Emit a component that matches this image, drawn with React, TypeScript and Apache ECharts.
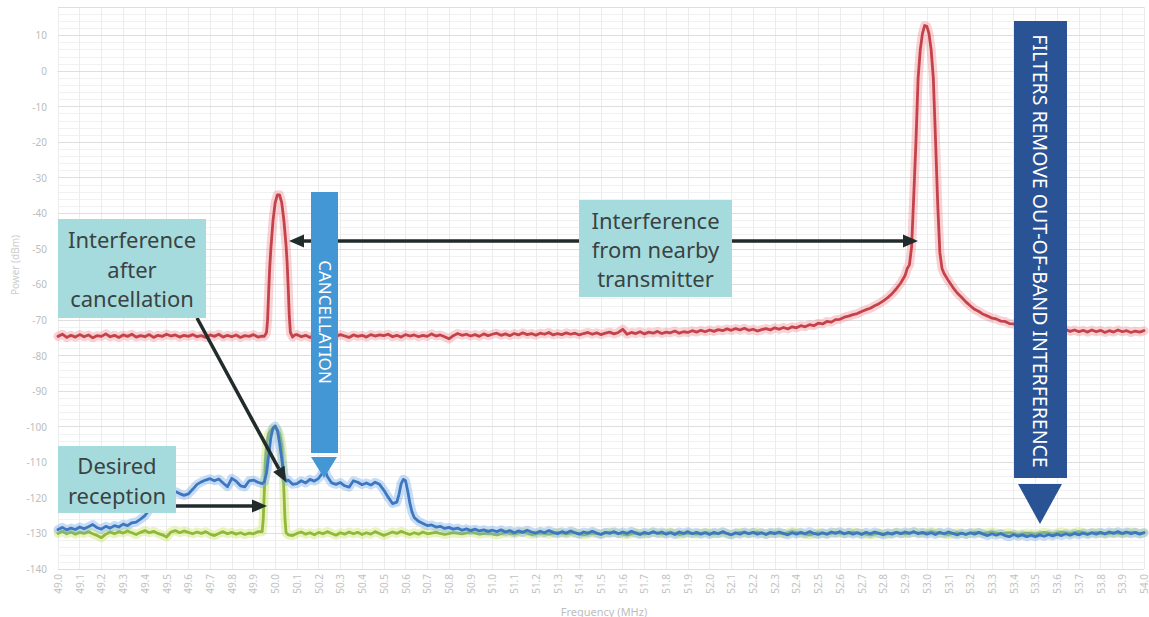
import React, { useEffect, useRef } from "react";
import * as echarts from "echarts";

const X_MIN = 49.0;
const X_MAX = 54.0;
const X_STEP = 0.1;
const Y_MIN = -140;
const Y_MAX = 18;
const Y_STEP = 10;
const Y_MINOR = 2;

const xAxisTitle = "Frequency (MHz)";
const yAxisTitle = "Power (dBm)";

// Interference (before cancellation), red
const redTrace: [number, number][] = [
  [49.0, -74.6], [49.02, -74.0], [49.04, -74.9], [49.06, -74.3], [49.08, -74.8], [49.1, -74.1], [49.12, -74.7], [49.14, -74.2],
  [49.16, -75.0], [49.18, -74.4], [49.2, -74.6], [49.22, -73.9], [49.24, -74.7], [49.26, -74.3], [49.28, -74.9], [49.3, -74.2],
  [49.32, -74.6], [49.34, -74.0], [49.36, -74.8], [49.38, -74.4], [49.4, -74.7], [49.42, -74.1], [49.44, -74.9], [49.46, -74.3],
  [49.48, -74.6], [49.5, -74.0], [49.52, -74.5], [49.54, -74.2], [49.56, -74.8], [49.58, -74.3], [49.6, -74.6], [49.62, -74.1],
  [49.64, -74.7], [49.66, -74.4], [49.68, -74.9], [49.7, -74.2], [49.72, -74.6], [49.74, -74.0], [49.76, -74.8], [49.78, -74.3],
  [49.8, -74.7], [49.82, -74.2], [49.84, -74.9], [49.86, -74.4], [49.88, -74.6], [49.9, -74.1], [49.92, -74.8], [49.94, -74.5],
  [49.95, -74.6], [49.96, -73.5], [49.965, -70], [49.97, -62], [49.975, -55], [49.98, -50], [49.99, -42], [50.0, -37],
  [50.01, -34.8], [50.02, -34.8], [50.03, -37], [50.04, -42], [50.05, -49], [50.055, -54], [50.06, -61], [50.065, -69],
  [50.07, -73.5], [50.08, -74.8], [50.09, -74.2],
  [50.1, -74.1], [50.12, -74.7], [50.14, -74.3], [50.16, -74.9], [50.18, -74.2], [50.2, -74.6], [50.22, -74.0], [50.24, -74.8],
  [50.26, -74.3], [50.28, -74.6], [50.3, -74.1], [50.32, -74.5], [50.34, -74.9], [50.36, -74.2], [50.38, -74.6], [50.4, -74.3],
  [50.42, -74.8], [50.44, -74.1], [50.46, -74.5], [50.48, -74.2], [50.5, -74.4], [50.52, -74.0], [50.54, -74.7], [50.56, -74.3],
  [50.58, -74.8], [50.6, -74.1], [50.62, -74.5], [50.64, -74.2], [50.66, -74.7], [50.68, -74.3], [50.7, -74.6], [50.72, -73.9],
  [50.74, -74.5], [50.76, -74.2], [50.78, -74.7], [50.8, -75.3], [50.82, -74.4], [50.84, -73.8], [50.86, -74.3], [50.88, -74.0],
  [50.9, -74.5], [50.92, -74.1], [50.94, -74.6], [50.96, -73.9], [50.98, -74.4], [51.0, -74.0],
  [51.02, -73.7], [51.04, -74.3], [51.06, -73.9], [51.08, -74.4], [51.1, -73.8], [51.12, -74.2], [51.14, -73.6], [51.16, -74.1],
  [51.18, -73.8], [51.2, -74.3], [51.22, -73.7], [51.24, -74.0], [51.26, -73.5], [51.28, -74.2], [51.3, -73.8], [51.32, -74.1],
  [51.34, -73.6], [51.36, -74.0], [51.38, -73.7], [51.4, -74.2], [51.42, -73.8], [51.44, -73.5], [51.46, -74.0], [51.48, -73.6],
  [51.5, -74.1], [51.52, -73.7], [51.54, -73.4], [51.56, -73.9], [51.58, -73.5], [51.6, -72.6], [51.62, -74.0], [51.64, -73.5],
  [51.66, -73.8], [51.68, -73.3], [51.7, -73.9], [51.72, -73.4], [51.74, -73.7], [51.76, -73.2], [51.78, -73.8], [51.8, -73.4],
  [51.82, -73.6], [51.84, -73.1], [51.86, -73.7], [51.88, -73.3], [51.9, -73.5], [51.92, -73.0], [51.94, -73.4], [51.96, -72.9],
  [51.98, -73.3], [52.0, -72.8],
  [52.02, -73.2], [52.04, -72.7], [52.06, -73.0], [52.08, -72.5], [52.1, -72.9], [52.12, -72.4], [52.14, -72.8], [52.16, -72.3],
  [52.18, -72.9], [52.2, -72.6], [52.22, -73.1], [52.24, -72.7], [52.26, -72.4], [52.28, -72.8], [52.3, -72.2], [52.32, -72.6],
  [52.34, -72.1], [52.36, -72.5], [52.38, -71.9], [52.4, -72.2], [52.42, -71.6], [52.44, -71.9], [52.46, -71.3], [52.48, -71.6],
  [52.5, -70.9], [52.52, -71.1], [52.54, -70.4], [52.56, -70.6], [52.58, -69.9], [52.6, -69.8], [52.62, -69.2], [52.64, -68.9],
  [52.66, -68.5], [52.68, -68.2], [52.7, -67.6], [52.72, -67.1], [52.74, -66.7], [52.76, -66.0], [52.78, -65.4], [52.8, -64.6],
  [52.82, -63.7], [52.84, -62.6], [52.86, -61.2], [52.88, -59.6], [52.9, -57.5], [52.91, -55.5],
  [52.92, -54.5], [52.93, -49.5], [52.94, -35], [52.95, -20], [52.96, -2], [52.97, 6], [52.98, 10.5], [52.99, 12.8],
  [53.0, 12.6], [53.01, 10.5], [53.02, 6], [53.03, -2], [53.04, -19], [53.05, -37], [53.06, -51], [53.07, -55.5],
  [53.08, -57], [53.1, -59.0], [53.12, -60.8], [53.14, -62.4], [53.16, -63.6], [53.18, -64.9], [53.2, -66.0], [53.22, -67.0],
  [53.24, -67.6], [53.26, -68.4], [53.28, -68.9], [53.3, -69.5], [53.32, -69.7], [53.34, -70.3], [53.36, -70.4], [53.38, -71.0],
  [53.4, -71.1], [53.42, -71.6], [53.44, -71.5], [53.46, -72.1], [53.48, -71.9], [53.5, -72.4], [53.52, -72.2], [53.54, -72.7],
  [53.56, -72.4], [53.58, -72.9], [53.6, -72.6], [53.62, -73.1], [53.64, -72.7], [53.66, -73.2], [53.68, -72.8], [53.7, -73.3],
  [53.72, -72.9], [53.74, -73.4], [53.76, -72.8], [53.78, -73.3], [53.8, -72.9], [53.82, -73.5], [53.84, -73.0], [53.86, -73.4],
  [53.88, -72.8], [53.9, -73.3], [53.92, -73.0], [53.94, -73.5], [53.96, -73.1], [53.98, -73.4], [54.0, -73.0],
];

// Desired reception, green
const greenTrace: [number, number][] = [
  [49.0, -130.0], [49.02, -129.4], [49.04, -130.1], [49.06, -129.6], [49.08, -130.2], [49.1, -129.7], [49.12, -130.0], [49.14, -129.5],
  [49.16, -130.1], [49.18, -130.6], [49.2, -131.2], [49.22, -130.2], [49.24, -129.6], [49.26, -130.1], [49.28, -129.5], [49.3, -129.9],
  [49.32, -129.3], [49.34, -129.8], [49.36, -130.3], [49.38, -129.7], [49.4, -129.2], [49.42, -129.8], [49.44, -129.4], [49.46, -130.0],
  [49.48, -130.4], [49.5, -131.0], [49.52, -129.6], [49.54, -129.2], [49.56, -129.8], [49.58, -129.3], [49.6, -129.7], [49.62, -130.1],
  [49.64, -129.6], [49.66, -130.0], [49.68, -129.5], [49.7, -130.2], [49.72, -130.6], [49.74, -130.0], [49.76, -129.5], [49.78, -130.1],
  [49.8, -129.7], [49.82, -130.2], [49.84, -129.8], [49.86, -130.3], [49.88, -129.9], [49.9, -130.1], [49.92, -129.5], [49.94, -129.5],
  [49.945, -126], [49.95, -118], [49.955, -110], [49.96, -105], [49.97, -102], [49.98, -101], [49.99, -100.5], [50.0, -100.5],
  [50.01, -101], [50.02, -102], [50.03, -105], [50.035, -110], [50.04, -118], [50.045, -126], [50.05, -129.8], [50.06, -130.4],
  [50.08, -130.6], [50.1, -130.0], [50.12, -129.6], [50.14, -130.2], [50.16, -129.8], [50.18, -130.4], [50.2, -129.7], [50.22, -130.1],
  [50.24, -129.5], [50.26, -130.0], [50.28, -130.5], [50.3, -129.8], [50.32, -130.2], [50.34, -129.6], [50.36, -130.1], [50.38, -129.7],
  [50.4, -130.3], [50.42, -129.8], [50.44, -130.2], [50.46, -129.5], [50.48, -130.0], [50.5, -130.6], [50.52, -130.1], [50.54, -129.6],
  [50.56, -130.0], [50.58, -129.4], [50.6, -129.9], [50.62, -130.3], [50.64, -129.8], [50.66, -130.2], [50.68, -129.6], [50.7, -130.1],
  [50.74, -129.7], [50.78, -130.3], [50.82, -129.8], [50.86, -130.1], [50.9, -129.6], [50.94, -130.2], [50.98, -129.9], [51.02, -130.4],
  [51.06, -129.8], [51.1, -130.1], [51.14, -129.6], [51.18, -130.3], [51.22, -129.9], [51.26, -130.2], [51.3, -129.7], [51.34, -130.1],
  [51.38, -129.8], [51.42, -130.4], [51.46, -129.9], [51.5, -130.2], [51.54, -129.6], [51.58, -130.0], [51.62, -130.4], [51.66, -129.8],
  [51.7, -130.2], [51.74, -129.7], [51.78, -130.1], [51.82, -129.6], [51.86, -130.3], [51.9, -129.9], [51.94, -130.2], [51.98, -129.7],
  [52.02, -130.1], [52.06, -129.8], [52.1, -130.3], [52.14, -129.7], [52.18, -130.0], [52.22, -129.6], [52.26, -130.2], [52.3, -129.8],
  [52.34, -130.1], [52.38, -129.5], [52.42, -130.0], [52.46, -130.4], [52.5, -129.8], [52.54, -130.2], [52.58, -129.7], [52.62, -130.1],
  [52.66, -129.6], [52.7, -130.0], [52.74, -130.4], [52.78, -129.9], [52.82, -130.2], [52.86, -129.7], [52.9, -130.1], [52.94, -129.6],
  [52.98, -130.0], [53.02, -129.5], [53.06, -129.9], [53.1, -130.3], [53.14, -129.8], [53.18, -130.2], [53.22, -129.7], [53.26, -130.0],
  [53.3, -129.6], [53.34, -130.1], [53.38, -129.8], [53.42, -130.3], [53.46, -129.9], [53.5, -130.2], [53.54, -129.7], [53.58, -130.1],
  [53.62, -129.6], [53.66, -130.0], [53.7, -129.5], [53.74, -130.0], [53.78, -129.7], [53.82, -130.2], [53.86, -129.8], [53.9, -130.1],
  [53.94, -129.6], [53.98, -130.0], [54.0, -129.8],
];

// Interference after cancellation, blue
const blueTrace: [number, number][] = [
  [49.0, -128.9], [49.02, -128.3], [49.04, -129.0], [49.06, -128.5], [49.08, -128.9], [49.1, -128.2], [49.12, -128.7], [49.14, -128.1],
  [49.16, -127.5], [49.18, -128.4], [49.2, -128.8], [49.22, -128.0], [49.24, -128.5], [49.26, -127.8], [49.28, -128.2], [49.3, -127.4],
  [49.32, -127.8], [49.34, -127.0], [49.36, -126.8], [49.38, -126.0], [49.4, -125.0], [49.42, -123.4], [49.44, -121.8], [49.46, -120.2],
  [49.48, -119.4], [49.5, -118.6], [49.52, -119.0], [49.54, -118.2], [49.56, -118.8], [49.58, -119.3], [49.6, -118.9], [49.62, -117.6],
  [49.64, -116.2], [49.66, -115.5], [49.68, -115.0], [49.7, -114.6], [49.72, -115.2], [49.74, -114.7], [49.76, -115.8], [49.78, -116.9],
  [49.8, -114.5], [49.82, -115.3], [49.84, -116.6], [49.86, -116.9], [49.88, -115.2], [49.9, -115.0], [49.92, -115.6], [49.94, -116.0],
  [49.95, -115.5], [49.96, -113], [49.97, -108], [49.98, -103], [49.99, -100.3], [50.0, -99.8], [50.01, -101], [50.02, -104.5],
  [50.03, -109], [50.04, -113.5], [50.05, -115.3], [50.06, -115.0], [50.08, -116.2], [50.1, -116.0], [50.12, -115.2], [50.14, -115.8],
  [50.16, -114.8], [50.18, -115.3], [50.2, -114.5], [50.22, -112.8], [50.23, -112.4], [50.24, -114.0], [50.26, -115.8], [50.28, -116.2],
  [50.3, -115.7], [50.32, -116.6], [50.34, -117.0], [50.36, -115.2], [50.38, -115.6], [50.4, -116.3], [50.42, -115.8], [50.44, -116.4],
  [50.46, -115.6], [50.48, -116.2], [50.5, -117.8], [50.52, -119.8], [50.54, -121.6], [50.56, -121.2], [50.57, -119.0], [50.58, -116.0],
  [50.59, -114.8], [50.6, -115.2], [50.61, -118.0], [50.62, -121.5], [50.63, -124.0], [50.64, -125.5], [50.66, -126.6], [50.68, -127.2],
  [50.7, -127.8], [50.72, -127.6], [50.74, -128.2], [50.76, -128.0], [50.78, -128.6], [50.8, -128.3], [50.82, -128.8], [50.84, -128.5],
  [50.86, -129.1], [50.88, -128.7], [50.9, -129.2], [50.92, -128.8], [50.94, -129.3], [50.96, -129.0], [50.98, -129.4], [51.0, -129.1],
  [51.02, -129.5], [51.04, -129.0], [51.06, -129.6], [51.08, -129.2], [51.1, -129.8], [51.12, -129.3], [51.14, -129.7], [51.16, -129.1],
  [51.18, -129.6], [51.2, -129.9], [51.22, -129.4], [51.24, -129.8], [51.26, -129.2], [51.28, -129.7], [51.3, -130.1], [51.32, -129.5],
  [51.34, -129.9], [51.36, -129.3], [51.38, -129.8], [51.4, -130.2], [51.42, -129.6], [51.44, -129.9], [51.46, -129.4], [51.48, -129.9],
  [51.5, -130.3], [51.52, -129.7], [51.54, -130.0], [51.56, -129.5], [51.58, -130.1], [51.6, -129.6], [51.62, -130.0], [51.64, -129.4],
  [51.66, -129.9], [51.68, -130.3], [51.7, -129.7], [51.72, -130.1], [51.74, -129.5], [51.76, -130.0], [51.78, -129.6], [51.8, -130.2],
  [51.82, -129.8], [51.84, -130.3], [51.86, -129.6], [51.88, -130.0], [51.9, -129.5], [51.92, -130.1], [51.94, -129.7], [51.96, -130.2],
  [51.98, -129.8], [52.0, -130.3], [52.02, -129.7], [52.04, -130.1], [52.06, -129.5], [52.08, -130.0], [52.1, -130.4], [52.12, -129.8],
  [52.14, -130.2], [52.16, -129.6], [52.18, -130.1], [52.2, -129.7], [52.22, -130.2], [52.24, -129.8], [52.26, -130.3], [52.28, -129.7],
  [52.3, -130.1], [52.32, -129.6], [52.34, -130.0], [52.36, -130.4], [52.38, -129.8], [52.4, -130.2], [52.42, -129.7], [52.44, -130.1],
  [52.46, -129.5], [52.48, -130.0], [52.5, -130.3], [52.52, -129.8], [52.54, -130.2], [52.56, -129.6], [52.58, -130.0], [52.6, -129.5],
  [52.62, -130.1], [52.64, -129.7], [52.66, -130.2], [52.68, -129.8], [52.7, -130.3], [52.72, -129.7], [52.74, -130.1], [52.76, -129.6],
  [52.78, -130.0], [52.8, -130.4], [52.82, -129.8], [52.84, -130.2], [52.86, -129.7], [52.88, -130.1], [52.9, -129.6], [52.92, -130.0],
  [52.94, -129.5], [52.96, -130.1], [52.98, -129.7], [53.0, -130.2], [53.02, -129.8], [53.04, -130.3], [53.06, -129.7], [53.08, -130.1],
  [53.1, -129.6], [53.12, -130.0], [53.14, -130.4], [53.16, -129.9], [53.18, -130.3], [53.2, -129.8], [53.22, -130.2], [53.24, -129.7],
  [53.26, -130.2], [53.28, -130.6], [53.3, -130.1], [53.32, -130.5], [53.34, -130.0], [53.36, -130.6], [53.38, -130.9], [53.4, -130.3],
  [53.42, -130.8], [53.44, -130.4], [53.46, -130.9], [53.48, -130.5], [53.5, -130.9], [53.52, -130.4], [53.54, -130.8], [53.56, -130.3],
  [53.58, -130.7], [53.6, -130.2], [53.62, -130.6], [53.64, -130.1], [53.66, -130.5], [53.68, -130.0], [53.7, -130.4], [53.72, -129.9],
  [53.74, -130.3], [53.76, -129.8], [53.78, -130.2], [53.8, -129.7], [53.82, -130.1], [53.84, -129.6], [53.86, -130.0], [53.88, -129.5],
  [53.9, -130.0], [53.92, -129.6], [53.94, -130.1], [53.96, -129.7], [53.98, -130.2], [54.0, -129.8],
];

const noteAfter = "Interference\nafter\ncancellation";
const noteDesired = "Desired\nreception";
const noteNearby = "Interference\nfrom nearby\ntransmitter";
const barCancel = "CANCELLATION";
const barFilters = "FILTERS REMOVE OUT-OF-BAND INTERFERENCE";

const INK = "#222b2b";
const BOX = "#a6dbdd";
const NOTE_TEXT = "#3a4343";
const FONT = "'Noto Sans', 'Open Sans', sans-serif";

function arrowHead(tipX: number, tipY: number, fromX: number, fromY: number, len: number, half: number) {
  const dx = tipX - fromX;
  const dy = tipY - fromY;
  const d = Math.sqrt(dx * dx + dy * dy);
  const ux = dx / d;
  const uy = dy / d;
  const bx = tipX - ux * len;
  const by = tipY - uy * len;
  return {
    base: [bx, by],
    points: [
      [tipX, tipY],
      [bx - uy * half, by + ux * half],
      [bx + uy * half, by - ux * half],
    ],
  };
}

function arrow(x1: number, y1: number, x2: number, y2: number) {
  const h = arrowHead(x2, y2, x1, y1, 15, 6.5);
  return [
    {
      type: "line",
      z: 100,
      shape: { x1, y1, x2: h.base[0], y2: h.base[1] },
      style: { stroke: INK, lineWidth: 3.5 },
    },
    {
      type: "polygon",
      z: 100,
      shape: { points: h.points },
      style: { fill: INK },
    },
  ];
}

function noteBox(x: number, y: number, w: number, h: number, text: string, lh: number) {
  return [
    { type: "rect", z: 101, shape: { x, y, width: w, height: h }, style: { fill: BOX } },
    {
      type: "text",
      z: 102,
      x: x + w / 2,
      y: y + h / 2,
      style: {
        text,
        fill: NOTE_TEXT,
        font: `22px ${FONT}`,
        align: "center",
        verticalAlign: "middle",
        lineHeight: lh,
      },
    },
  ];
}

export default function App() {
  const ref = useRef<HTMLDivElement>(null);

  useEffect(() => {
    if (!ref.current) return;
    const chart = echarts.init(ref.current, null, { renderer: "svg" });

    const lineSeries = (name: string, data: [number, number][], color: string, width: number, z: number) => ({
      name,
      type: "line",
      data,
      z,
      showSymbol: false,
      symbol: "none",
      smooth: false,
      lineStyle: { color, width, cap: "round", join: "round" },
      silent: true,
    });

    chart.setOption({
      animation: false,
      backgroundColor: "#ffffff",
      grid: { left: 58, top: 7, width: 1093, height: 562, containLabel: false },
      xAxis: {
        type: "value",
        min: X_MIN,
        max: X_MAX,
        interval: X_STEP,
        axisLine: { show: true, lineStyle: { color: "#d6d6d6", width: 1 } },
        axisTick: { show: false },
        axisLabel: {
          rotate: 90,
          margin: 5,
          color: "#c2c2c2",
          fontSize: 10,
          fontFamily: FONT,
          formatter: (v: number) => v.toFixed(1),
        },
        splitLine: { show: true, lineStyle: { color: "#ececec", width: 1 } },
      },
      yAxis: [
        {
          type: "value",
          min: Y_MIN,
          max: Y_MAX,
          interval: Y_STEP,
          axisLine: { show: false },
          axisTick: { show: false },
          axisLabel: {
            margin: 11,
            color: "#bdbdbd",
            fontSize: 10,
            fontFamily: FONT,
            formatter: (v: number) => (Math.round(v) % Y_STEP === 0 ? String(Math.round(v)) : ""),
          },
          splitLine: { show: true, lineStyle: { color: "#dedede", width: 1.2 } },
          z: 1,
        },
        {
          type: "value",
          min: Y_MIN,
          max: Y_MAX,
          interval: Y_MINOR,
          axisLine: { show: false },
          axisTick: { show: false },
          axisLabel: { show: false },
          splitLine: { show: true, lineStyle: { color: "#f1f1f1", width: 1 } },
          z: 0,
        },
      ],
      series: [
        lineSeries("Interference glow", redTrace, "rgba(235,125,135,0.35)", 9, 2),
        lineSeries("Interference", redTrace, "#c4434b", 2.8, 3),
        lineSeries("Desired reception glow", greenTrace, "rgba(200,225,90,0.4)", 9, 4),
        lineSeries("Desired reception", greenTrace, "#8fb83c", 2.8, 5),
        lineSeries("After cancellation glow", blueTrace, "rgba(115,170,235,0.4)", 9, 6),
        lineSeries("After cancellation", blueTrace, "#3c77c0", 2.8, 7),
      ],
      graphic: [
        {
          type: "text",
          z: 100,
          x: 604,
          y: 611,
          style: { text: xAxisTitle, fill: "#bdbdbd", font: `11px ${FONT}`, align: "center", verticalAlign: "middle" },
        },
        {
          type: "text",
          z: 100,
          x: 15,
          y: 265,
          rotation: Math.PI / 2,
          style: { text: yAxisTitle, fill: "#cdcdcd", font: `10px ${FONT}`, align: "center", verticalAlign: "middle" },
        },
        // horizontal interference arrows
        ...arrow(579, 241, 289, 241),
        ...arrow(732, 241, 918, 241),
        // cancellation bar
        { type: "rect", z: 103, shape: { x: 311, y: 192, width: 27, height: 261 }, style: { fill: "#4497d5" } },
        { type: "polygon", z: 103, shape: { points: [[311, 457], [337, 457], [324, 478]] }, style: { fill: "#4497d5" } },
        {
          type: "text",
          z: 104,
          x: 325,
          y: 322,
          rotation: -Math.PI / 2,
          style: { text: barCancel, fill: "#ffffff", font: `17px ${FONT}`, align: "center", verticalAlign: "middle" },
        },
        // filters bar
        { type: "rect", z: 103, shape: { x: 1014, y: 21, width: 53, height: 457 }, style: { fill: "#2a5396" } },
        { type: "polygon", z: 103, shape: { points: [[1018, 484], [1062, 484], [1040, 524]] }, style: { fill: "#2a5396" } },
        {
          type: "text",
          z: 104,
          x: 1040.5,
          y: 251,
          rotation: -Math.PI / 2,
          style: { text: barFilters, fill: "#ffffff", font: `19.5px ${FONT}`, align: "center", verticalAlign: "middle" },
        },
        // notes
        ...noteBox(58, 219, 148, 99, noteAfter, 29.5),
        ...noteBox(579, 200, 153, 97, noteNearby, 29),
        ...noteBox(58, 446, 118, 67, noteDesired, 30),
        ...arrow(197, 318, 286, 482),
        ...arrow(176, 506, 267, 506),
      ],
    });

    return () => chart.dispose();
  }, []);

  return (
    <div
      ref={ref}
      style={{ position: "fixed", left: 0, top: 0, width: 1149, height: 617, background: "#fff" }}
    />
  );
}
